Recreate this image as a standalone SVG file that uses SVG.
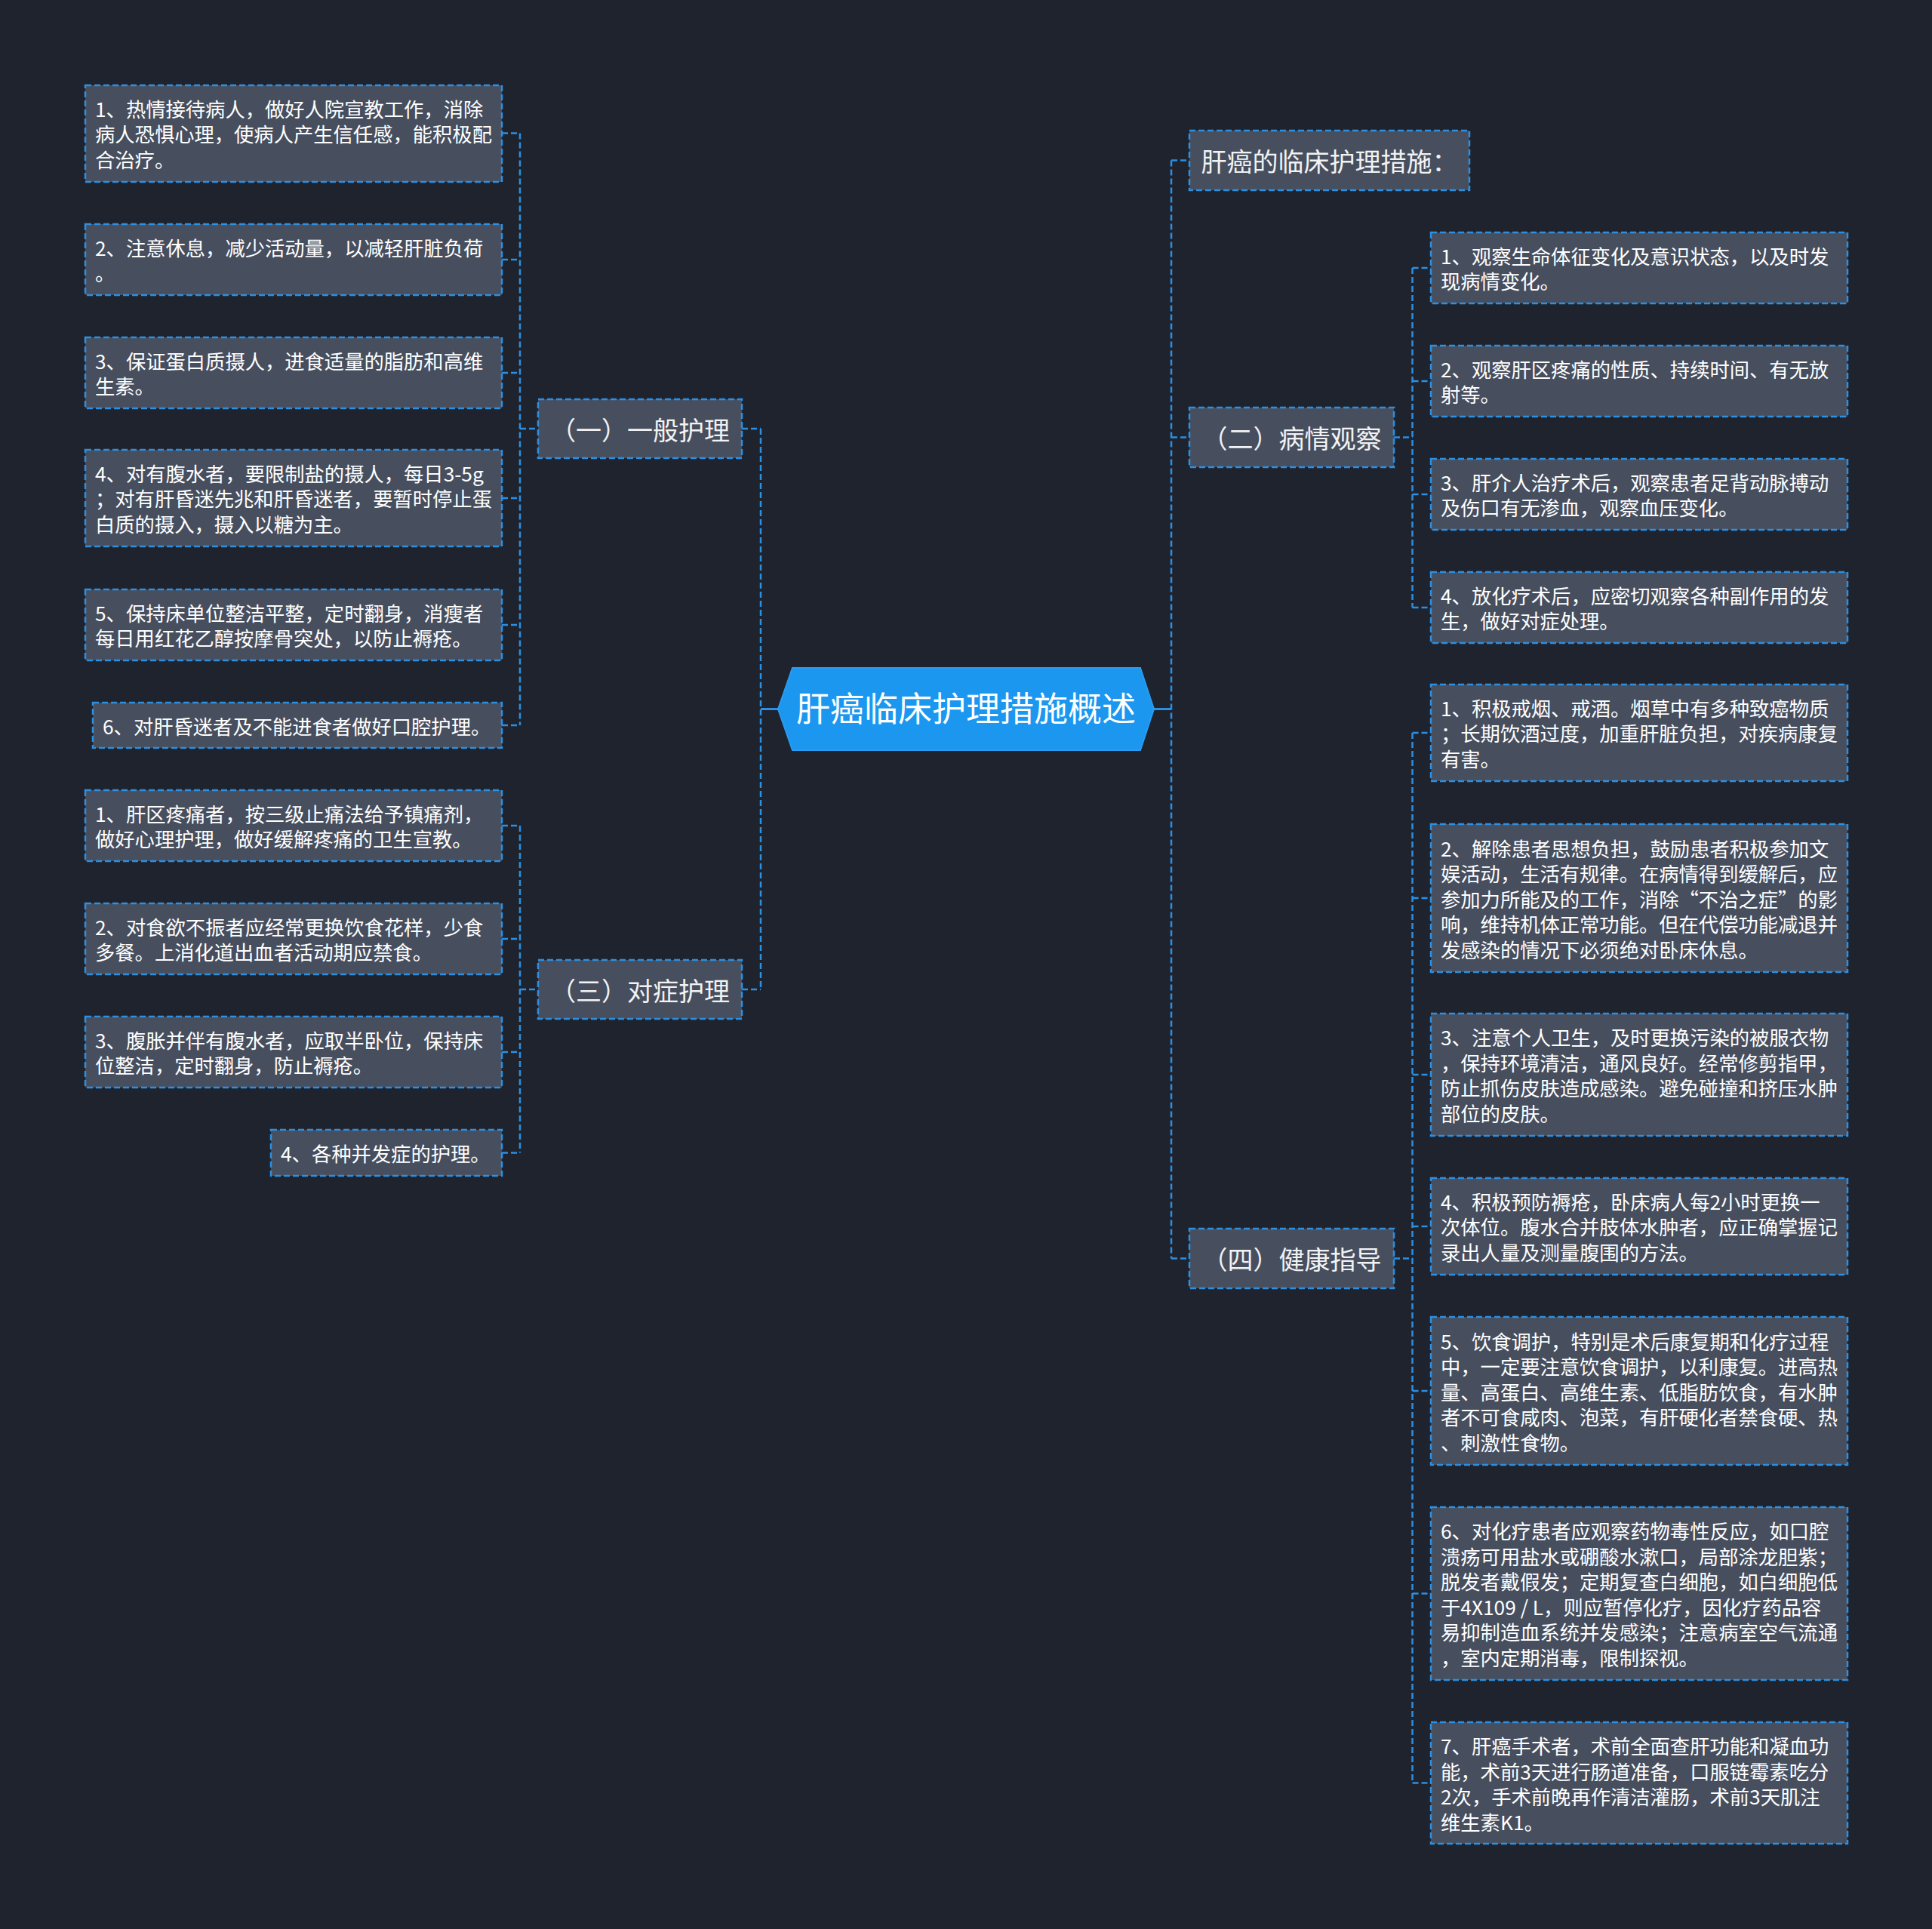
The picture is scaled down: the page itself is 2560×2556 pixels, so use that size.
<svg xmlns="http://www.w3.org/2000/svg" width="2560" height="2556" viewBox="0 0 2560 2556">
<style>
.bg{fill:#1f232e}
.box{fill:#474f5f;stroke:#2b8fe2;stroke-width:2.5;stroke-dasharray:8 4}
.t{font-family:"Noto Sans CJK SC","Noto Sans",sans-serif;font-size:26.3px;fill:#ffffff}
.t1{font-family:"Noto Sans CJK SC","Noto Sans",sans-serif;font-size:34px;fill:#f2f2f2;text-anchor:middle}
.t0{font-family:"Noto Sans CJK SC","Noto Sans",sans-serif;font-size:45px;fill:#ffffff;text-anchor:middle}
.root{fill:#1b97ef;stroke:#2a9bf0;stroke-width:2}
.c{fill:none;stroke:#2b8fe2;stroke-width:2.5;stroke-dasharray:8 4}
.cs{fill:none;stroke:#2b8fe2;stroke-width:3}
</style>
<rect class="bg" x="0" y="0" width="2560" height="2556"/>

<g id="connectors">
  <path class="c" d="M689 176.5V961"/>
  <path class="c" d="M665 176.5H689M665 344H689M665 494H689M665 660H689M665 828H689M665 961H689M689 568H713"/>
  <path class="c" d="M1008 568V1311"/>
  <path class="c" d="M983 568H1008M983 1311H1008"/>
  <path class="cs" d="M1008 939.5H1031"/>
  <path class="c" d="M689 1094V1527.5"/>
  <path class="c" d="M665 1094H689M665 1244H689M665 1394H689M665 1527.5H689M689 1311H713"/>
  <path class="c" d="M1552 212.5V1667.5"/>
  <path class="cs" d="M1529 939.5H1552"/>
  <path class="c" d="M1552 212.5H1576M1552 579.5H1576M1552 1667.5H1576"/>
  <path class="c" d="M1871.5 355V805"/>
  <path class="c" d="M1847 579.5H1871.5M1871.5 355H1896M1871.5 505H1896M1871.5 655H1896M1871.5 805H1896"/>
  <path class="c" d="M1871.5 971V2362.5"/>
  <path class="c" d="M1847 1667.5H1871.5M1871.5 971H1896M1871.5 1190H1896M1871.5 1424H1896M1871.5 1625H1896M1871.5 1843H1896M1871.5 2111.5H1896M1871.5 2362.5H1896"/>
</g>

<g id="root">
  <polygon class="root" points="1031,939.5 1050,885 1511,885 1529,939.5 1511,994 1050,994"/>
  <text class="t0" x="1280" y="955.5">肝癌临床护理措施概述</text>
</g>

<g id="n-yi">
  <rect class="box" x="713" y="529" width="270" height="78"/>
  <text class="t1" x="848" y="582.5">（一）一般护理</text>
</g>
<g id="n-san">
  <rect class="box" x="713" y="1272" width="270" height="78"/>
  <text class="t1" x="848" y="1325.5">（三）对症护理</text>
</g>
<g id="n-title">
  <rect class="box" x="1576" y="173" width="371" height="79"/>
  <text class="t1" x="1761.5" y="227">肝癌的临床护理措施：</text>
</g>
<g id="n-er">
  <rect class="box" x="1576" y="540" width="271" height="79"/>
  <text class="t1" x="1711.5" y="594">（二）病情观察</text>
</g>
<g id="n-si">
  <rect class="box" x="1576" y="1628" width="271" height="79"/>
  <text class="t1" x="1711.5" y="1682">（四）健康指导</text>
</g>

<g id="yi-1">
  <rect class="box" x="113" y="113" width="552" height="128"/>
  <text class="t" x="126" y="154.5"><tspan x="126">1、热情接待病人，做好人院宣教工作，消除</tspan><tspan x="126" dy="33.5">病人恐惧心理，使病人产生信任感，能积极配</tspan><tspan x="126" dy="33.5">合治疗。</tspan></text>
</g>
<g id="yi-2">
  <rect class="box" x="113" y="297" width="552" height="94"/>
  <text class="t" x="126" y="338.5"><tspan x="126">2、注意休息，减少活动量，以减轻肝脏负荷</tspan><tspan x="126" dy="33.5">。</tspan></text>
</g>
<g id="yi-3">
  <rect class="box" x="113" y="447" width="552" height="94"/>
  <text class="t" x="126" y="488.5"><tspan x="126">3、保证蛋白质摄人，进食适量的脂肪和高维</tspan><tspan x="126" dy="33.5">生素。</tspan></text>
</g>
<g id="yi-4">
  <rect class="box" x="113" y="596" width="552" height="128"/>
  <text class="t" x="126" y="637.5"><tspan x="126">4、对有腹水者，要限制盐的摄人，每日3-5g</tspan><tspan x="126" dy="33.5">；对有肝昏迷先兆和肝昏迷者，要暂时停止蛋</tspan><tspan x="126" dy="33.5">白质的摄入，摄入以糖为主。</tspan></text>
</g>
<g id="yi-5">
  <rect class="box" x="113" y="781" width="552" height="94"/>
  <text class="t" x="126" y="822.5"><tspan x="126">5、保持床单位整洁平整，定时翻身，消瘦者</tspan><tspan x="126" dy="33.5">每日用红花乙醇按摩骨突处，以防止褥疮。</tspan></text>
</g>
<g id="yi-6">
  <rect class="box" x="123" y="931" width="542" height="60"/>
  <text class="t" x="136" y="972.5">6、对肝昏迷者及不能进食者做好口腔护理。</text>
</g>

<g id="san-1">
  <rect class="box" x="113" y="1047" width="552" height="94"/>
  <text class="t" x="126" y="1088.5"><tspan x="126">1、肝区疼痛者，按三级止痛法给予镇痛剂，</tspan><tspan x="126" dy="33.5">做好心理护理，做好缓解疼痛的卫生宣教。</tspan></text>
</g>
<g id="san-2">
  <rect class="box" x="113" y="1197" width="552" height="94"/>
  <text class="t" x="126" y="1238.5"><tspan x="126">2、对食欲不振者应经常更换饮食花样，少食</tspan><tspan x="126" dy="33.5">多餐。上消化道出血者活动期应禁食。</tspan></text>
</g>
<g id="san-3">
  <rect class="box" x="113" y="1347" width="552" height="94"/>
  <text class="t" x="126" y="1388.5"><tspan x="126">3、腹胀并伴有腹水者，应取半卧位，保持床</tspan><tspan x="126" dy="33.5">位整洁，定时翻身，防止褥疮。</tspan></text>
</g>
<g id="san-4">
  <rect class="box" x="359" y="1497" width="306" height="61"/>
  <text class="t" x="372" y="1539">4、各种并发症的护理。</text>
</g>

<g id="er-1">
  <rect class="box" x="1896" y="308" width="552" height="94"/>
  <text class="t" x="1909" y="349.5"><tspan x="1909">1、观察生命体征变化及意识状态，以及时发</tspan><tspan x="1909" dy="33.5">现病情变化。</tspan></text>
</g>
<g id="er-2">
  <rect class="box" x="1896" y="458" width="552" height="94"/>
  <text class="t" x="1909" y="499.5"><tspan x="1909">2、观察肝区疼痛的性质、持续时间、有无放</tspan><tspan x="1909" dy="33.5">射等。</tspan></text>
</g>
<g id="er-3">
  <rect class="box" x="1896" y="608" width="552" height="94"/>
  <text class="t" x="1909" y="649.5"><tspan x="1909">3、肝介人治疗术后，观察患者足背动脉搏动</tspan><tspan x="1909" dy="33.5">及伤口有无渗血，观察血压变化。</tspan></text>
</g>
<g id="er-4">
  <rect class="box" x="1896" y="758" width="552" height="94"/>
  <text class="t" x="1909" y="799.5"><tspan x="1909">4、放化疗术后，应密切观察各种副作用的发</tspan><tspan x="1909" dy="33.5">生，做好对症处理。</tspan></text>
</g>

<g id="si-1">
  <rect class="box" x="1896" y="907" width="552" height="128"/>
  <text class="t" x="1909" y="948.5"><tspan x="1909">1、积极戒烟、戒酒。烟草中有多种致癌物质</tspan><tspan x="1909" dy="33.5">；长期饮酒过度，加重肝脏负担，对疾病康复</tspan><tspan x="1909" dy="33.5">有害。</tspan></text>
</g>
<g id="si-2">
  <rect class="box" x="1896" y="1092" width="552" height="196"/>
  <text class="t" x="1909" y="1134.5"><tspan x="1909">2、解除患者思想负担，鼓励患者积极参加文</tspan><tspan x="1909" dy="33.5">娱活动，生活有规律。在病情得到缓解后，应</tspan><tspan x="1909" dy="33.5">参加力所能及的工作，消除“不治之症”的影</tspan><tspan x="1909" dy="33.5">响，维持机体正常功能。但在代偿功能减退并</tspan><tspan x="1909" dy="33.5">发感染的情况下必须绝对卧床休息。</tspan></text>
</g>
<g id="si-3">
  <rect class="box" x="1896" y="1343" width="552" height="162"/>
  <text class="t" x="1909" y="1385"><tspan x="1909">3、注意个人卫生，及时更换污染的被服衣物</tspan><tspan x="1909" dy="33.5">，保持环境清洁，通风良好。经常修剪指甲，</tspan><tspan x="1909" dy="33.5">防止抓伤皮肤造成感染。避免碰撞和挤压水肿</tspan><tspan x="1909" dy="33.5">部位的皮肤。</tspan></text>
</g>
<g id="si-4">
  <rect class="box" x="1896" y="1561" width="552" height="128"/>
  <text class="t" x="1909" y="1602.5"><tspan x="1909">4、积极预防褥疮，卧床病人每2小时更换一</tspan><tspan x="1909" dy="33.5">次体位。腹水合并肢体水肿者，应正确掌握记</tspan><tspan x="1909" dy="33.5">录出人量及测量腹围的方法。</tspan></text>
</g>
<g id="si-5">
  <rect class="box" x="1896" y="1745" width="552" height="196"/>
  <text class="t" x="1909" y="1787.5"><tspan x="1909">5、饮食调护，特别是术后康复期和化疗过程</tspan><tspan x="1909" dy="33.5">中，一定要注意饮食调护，以利康复。进高热</tspan><tspan x="1909" dy="33.5">量、高蛋白、高维生素、低脂肪饮食，有水肿</tspan><tspan x="1909" dy="33.5">者不可食咸肉、泡菜，有肝硬化者禁食硬、热</tspan><tspan x="1909" dy="33.5">、刺激性食物。</tspan></text>
</g>
<g id="si-6">
  <rect class="box" x="1896" y="1997" width="552" height="229"/>
  <text class="t" x="1909" y="2039"><tspan x="1909">6、对化疗患者应观察药物毒性反应，如口腔</tspan><tspan x="1909" dy="33.5">溃疡可用盐水或硼酸水漱口，局部涂龙胆紫；</tspan><tspan x="1909" dy="33.5">脱发者戴假发；定期复查白细胞，如白细胞低</tspan><tspan x="1909" dy="33.5">于4X109 / L，则应暂停化疗，因化疗药品容</tspan><tspan x="1909" dy="33.5">易抑制造血系统并发感染；注意病室空气流通</tspan><tspan x="1909" dy="33.5">，室内定期消毒，限制探视。</tspan></text>
</g>
<g id="si-7">
  <rect class="box" x="1896" y="2282" width="552" height="161"/>
  <text class="t" x="1909" y="2324"><tspan x="1909">7、肝癌手术者，术前全面查肝功能和凝血功</tspan><tspan x="1909" dy="33.5">能，术前3天进行肠道准备，口服链霉素吃分</tspan><tspan x="1909" dy="33.5">2次，手术前晚再作清洁灌肠，术前3天肌注</tspan><tspan x="1909" dy="33.5">维生素K1。</tspan></text>
</g>
</svg>
